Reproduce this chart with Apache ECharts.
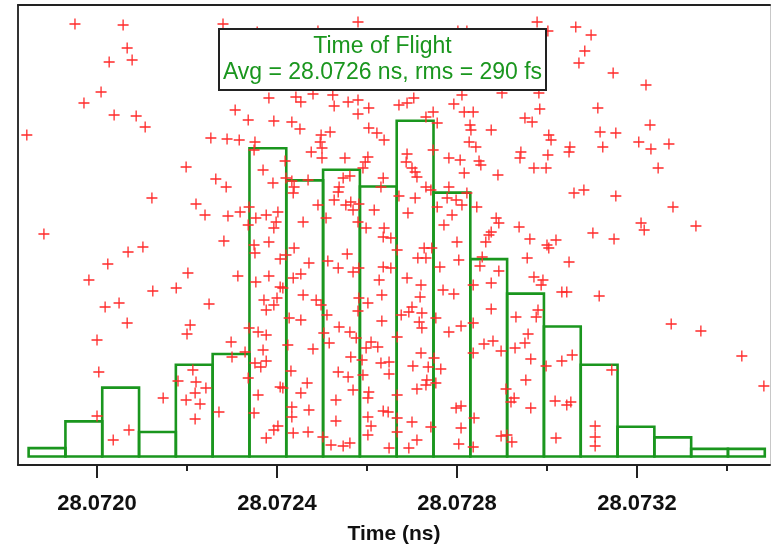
<!DOCTYPE html>
<html>
<head>
<meta charset="utf-8">
<script src="https://cdn.jsdelivr.net/npm/echarts@6/dist/echarts.min.js"></script>
<style>
  html, body { margin: 0; padding: 0; background: #fff; }
  #chart { width: 771px; height: 547px; }
</style>
</head>
<body>
<div id="chart"></div>
<script>
// Time-of-flight reference (ns); per-shot values are stored as offsets from it in fs
const T0 = 28.0720;

// Axis ticks (ns)
const majorTicks = [28.0720, 28.0724, 28.0728, 28.0732];
const minorTicks = [28.0722, 28.0726, 28.0730, 28.0734];

// Histogram: 20 equal bins
const binStart = 28.071848;
const binWidth = 0.0000818;
const binCounts = [1.1, 4.6, 9.0, 3.2, 12.0, 13.4, 40.3, 36.1, 37.5, 35.3,
                   43.9, 34.5, 25.8, 21.3, 17.0, 12.0, 3.9, 2.5, 1.0, 1.0];

// Individual shots: [offset from T0 in fs, shot row]
const shots = [
  [-49,441],[58,440],[67,417],[27,403],[78,405],[9,373],[-29,362],[38,350],[87,349],[107,338],
  [-156,330],[198,298],[122,267],[220,261],[240,250],[-118,231],[69,213],[102,218],[24,201],[-18,185],
  [202,192],[124,174],[176,177],[18,158],[49,162],[67,142],[207,140],[200,131],[0,125],[4,93],
  [213,95],[180,84],[220,83],[242,77],[218,72],[198,65],[229,61],[147,67],[218,46],[0,49],
  [71,35],[36,25],[249,161],
  [280,441],[580,443],[356,433],[491,434],[802,434],[822,434],[1002,434],
  [382,367],[442,368],[453,363],[480,371],[524,370],[527,359],[558,363],[580,365],[604,357],[580,351],
  [307,355],[336,345],[393,344],[433,343],[451,336],[253,327],[289,326],[316,325],[351,323],[349,315],
  [498,330],[518,333],[496,323],[500,317],[476,313],[500,307],[551,307],[602,308],[596,303],[591,297],
  [604,337],[622,332],[638,325],[418,304],[369,295],[391,282],[420,287],[433,284],[438,278],[436,272],
  [469,285],[264,286],[287,278],[547,287],[562,289],[538,278],[536,273],[527,265],[553,260],[564,263],
  [569,255],[582,261],[580,243],[636,287],[631,278],[616,255],[491,260],[458,243],[509,247],[291,249],
  [318,253],[338,258],[353,247],[376,250],[402,253],[398,243],[336,240],[393,237],[598,237],[638,237],
  [978,443],[1064,438],[1071,402],[811,370],[793,361],[900,372],[982,372],[984,356],[704,367],[689,362],
  [671,360],[816,353],[836,353],[747,353],[731,348],[756,342],[829,340],[831,335],[876,335],[951,347],
  [967,343],[1004,330],[1009,325],[827,323],[842,318],[1051,318],[1049,313],[942,313],[940,307],[1002,310],
  [998,297],[971,297],[782,307],[807,305],[849,304],[853,300],[816,292],[891,290],[689,311],[687,303],
  [700,297],[707,293],[711,288],[747,315],[731,278],[742,275],[671,269],[707,267],[691,252],[782,278],
  [778,267],[798,265],[822,272],[756,258],[811,260],[789,250],[844,258],[771,240],[887,247],[893,242],
  [938,238],[876,233],[1060,272],[1082,275],
  [1098,430],[1084,414],[1147,392],[1220,380],[1113,357],[1229,340],[1118,333],[1153,332],[1124,318],[1204,323],
  [1231,316],[1271,321],[1247,297],[1153,269],[1280,258],[1209,242],[1216,235],[1331,239],[1102,232],
  [1149,226],[1116,169],[1276,141],[1342,134],[1433,109],[1482,79],[1144,95],[1107,39],[1107,28],[1107,19],
  [282,224],[349,220],[351,212],[382,223],[438,217],[420,210],[407,206],[471,202],[313,189],[353,183],
  [382,189],[407,178],[413,177],[436,187],[453,191],[371,165],[393,160],[376,155],[400,167],[458,170],
  [487,165],[498,160],[511,150],[427,147],[453,145],[513,204],[536,197],[556,211],[569,193],[582,197],
  [582,167],[602,162],[580,154],[636,228],[653,227],[636,198],[653,197],[627,185],[633,170],[633,144],
  [338,137],[358,133],[376,130],[369,115],[351,102],[364,98],[376,104],[298,123],[300,108],[329,113],
  [424,120],[480,116],[504,132],[516,122],[538,138],[562,133],[576,127],[609,123],[624,118],[598,117],
  [589,105],[564,108],[631,102],[649,103],[649,91],[591,90],[558,88],[536,93],[569,75],[604,73],
  [602,67],[336,87],[431,94],[407,78],[413,77],[467,82],[453,72],[358,70],[271,53],[349,52],
  [433,58],[433,48],[471,55],[531,65],[531,44],[602,48],[609,39],[602,30],[636,54],[647,53],
  [649,17],[402,39],[393,35],[376,27],[436,32],[469,33],[502,28],[520,20],[547,19],[562,22],
  [667,215],[727,217],[744,217],[713,207],[731,207],[800,223],[804,205],[871,230],[864,223],[856,208],
  [851,199],[893,194],[962,226],[1000,220],[1020,225],[1004,217],[956,207],[1049,203],[762,198],[689,187],
  [720,180],[718,168],[769,175],[793,171],[836,180],[876,182],[971,188],[987,180],[991,185],[1033,173],
  [1044,173],[676,150],[693,153],[700,158],[722,152],[716,143],[722,137],[753,147],[809,139],[782,133],
  [836,142],[876,156],[931,148],[976,148],[980,155],[667,128],[860,121],[880,124],[898,114],[929,117],
  [951,122],[958,131],[836,112],[720,112],[702,99],[736,98],[764,96],[749,107],[733,85],[731,80],
  [753,82],[711,76],[667,70],[964,106],[953,85],[998,99],[1033,104],[1056,110],[909,76],[927,67],
  [920,63],[964,57],[1018,64],[1044,60],[1053,63],[798,57],[809,59],[838,47],[809,37],[804,21],
  [836,18],[898,29],[911,30],[922,23],[1020,27],[667,47],[667,33],[700,43],[742,38],[711,25],[693,17]
];

const titleLines = ['Time of Flight', 'Avg = 28.0726 ns, rms = 290 fs'];
const axisTitle = 'Time (ns)';

const X_MIN = 28.0718244;
const X_MAX = 28.0734956;
const GREEN = '#1a961e';
const FONT = '"Liberation Sans", Arial, Helvetica, sans-serif';

const histData = binCounts.map((c, i) => [binStart + i * binWidth, binStart + (i + 1) * binWidth, c]);
const shotData = shots.map(([fs, row]) => [T0 + fs * 1e-6, row]);

const chart = echarts.init(document.getElementById('chart'), null, { renderer: 'canvas' });

chart.setOption({
  animation: false,
  backgroundColor: '#fff',
  grid: { left: 18, right: 1, top: 5, bottom: 82, containLabel: false, outerBoundsMode: 'none' },
  xAxis: [
    {
      type: 'value', min: X_MIN, max: X_MAX, position: 'bottom',
      axisLine: { show: true, onZero: false, lineStyle: { color: '#222', width: 2 } },
      axisTick: { show: true, customValues: majorTicks, length: 13, lineStyle: { color: '#222', width: 2 } },
      axisLabel: {
        show: true, customValues: majorTicks, formatter: v => v.toFixed(4),
        fontFamily: FONT, fontWeight: 'bold', fontSize: 22, color: '#111', margin: 28
      },
      splitLine: { show: false },
      name: axisTitle, nameLocation: 'middle', nameGap: 59,
      nameTextStyle: { fontFamily: FONT, fontWeight: 'bold', fontSize: 21, color: '#111' }
    },
    {
      type: 'value', min: X_MIN, max: X_MAX, position: 'bottom',
      axisLine: { show: false, onZero: false },
      axisTick: { show: true, customValues: minorTicks, length: 6, lineStyle: { color: '#222', width: 2 } },
      axisLabel: { show: false },
      splitLine: { show: false }
    },
    {
      type: 'value', min: X_MIN, max: X_MAX, position: 'top',
      axisLine: { show: true, onZero: false, lineStyle: { color: '#222', width: 2 } },
      axisTick: { show: false }, axisLabel: { show: false }, splitLine: { show: false }
    }
  ],
  yAxis: [
    {
      type: 'value', min: -1.11, max: 59.03, position: 'left',
      axisLine: { show: true, onZero: false, lineStyle: { color: '#333', width: 2 } },
      axisTick: { show: false }, axisLabel: { show: false }, splitLine: { show: false }
    },
    {
      type: 'value', min: 0, max: 460, position: 'right',
      axisLine: { show: true, onZero: false, lineStyle: { color: '#c8c8c8', width: 1 } },
      axisTick: { show: false }, axisLabel: { show: false }, splitLine: { show: false }
    }
  ],
  series: [
    {
      type: 'custom',
      xAxisIndex: 0, yAxisIndex: 0,
      data: histData,
      encode: { x: [0, 1], y: 2 },
      clip: false,
      z: 2,
      renderItem: (params, api) => {
        const a = api.coord([api.value(0), 0]);
        const b = api.coord([api.value(1), api.value(2)]);
        return {
          type: 'rect',
          shape: { x: a[0], y: b[1], width: b[0] - a[0], height: a[1] - b[1] },
          style: { fill: 'none', stroke: GREEN, lineWidth: 2.6 }
        };
      }
    },
    {
      type: 'scatter',
      xAxisIndex: 0, yAxisIndex: 1,
      data: shotData,
      symbol: 'path://M5,0L5,10M0,5L10,5',
      symbolSize: 11,
      itemStyle: { color: 'none', borderColor: '#ff2a2a', borderWidth: 1.3, opacity: 1 },
      z: 3,
      silent: true
    }
  ],
  graphic: [
    {
      type: 'group', left: 218, top: 28, z: 100, zlevel: 1,
      children: [
        { type: 'rect', z: 100, zlevel: 1, shape: { x: 0, y: 0, width: 327, height: 61 },
          style: { fill: '#fff', stroke: '#222', lineWidth: 2 } },
        { type: 'text', z: 101, zlevel: 1, x: 163.5, y: 18,
          style: { text: titleLines[0], fill: GREEN, font: '23px ' + FONT, align: 'center', verticalAlign: 'middle' } },
        { type: 'text', z: 101, zlevel: 1, x: 163.5, y: 43.5,
          style: { text: titleLines[1], fill: GREEN, font: '23px ' + FONT, align: 'center', verticalAlign: 'middle' } }
      ]
    }
  ]
});
</script>
</body>
</html>
